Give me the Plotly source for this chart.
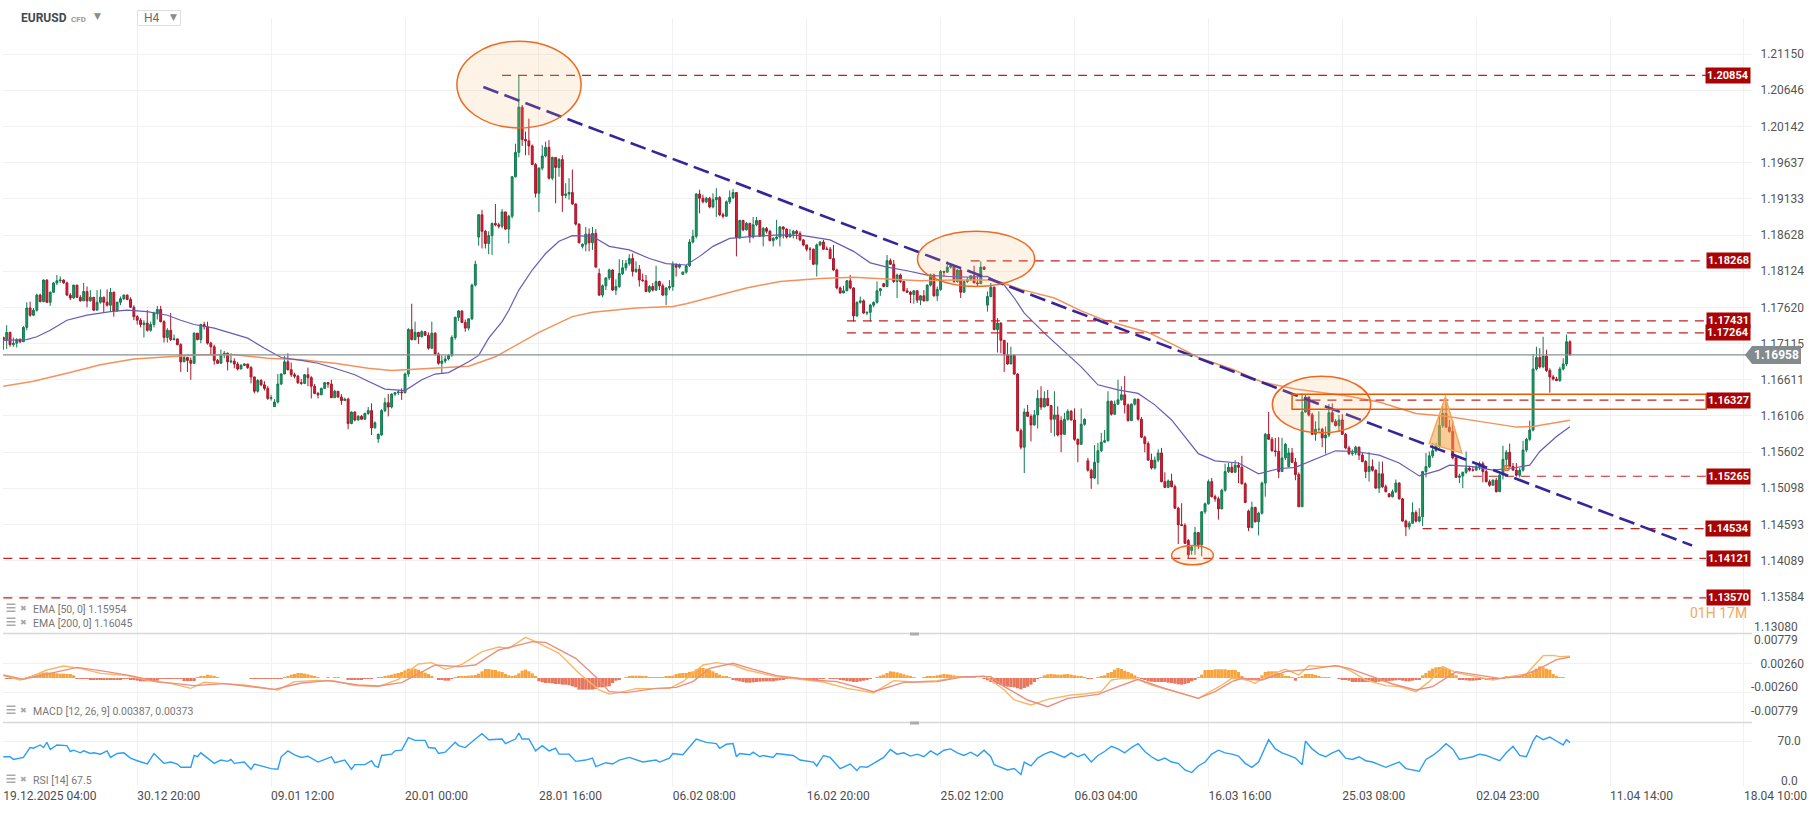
import plotly.graph_objects as go

# Prices are given in pips above 1.0000 (1712 = 1.1712)
close_pips = [
1717,1727,1710,1712,1717,1714,1734,1761,1751,1758,1779,1770,1800,1769,1783,1796,1799,1800,1796,1779,
1775,1793,1776,1771,1784,1771,1776,1758,1769,1776,1769,1765,1783,1757,1769,1774,1779,1773,1762,1749,
1744,1738,1740,1730,1738,1754,1759,1742,1720,1730,1717,1718,1710,1686,1692,1688,1684,1726,1717,1738,
1735,1712,1707,1688,1684,1696,1698,1686,1687,1683,1676,1681,1683,1678,1665,1645,1660,1654,1649,1635,
1636,1630,1655,1669,1686,1675,1668,1666,1657,1656,1668,1664,1652,1642,1640,1649,1657,1655,1636,1645,
1637,1632,1634,1600,1616,1605,1610,1606,1614,1618,1594,1601,1585,1618,1629,1623,1641,1643,1644,1643,
1669,1731,1717,1727,1721,1728,1723,1705,1726,1697,1684,1687,1690,1695,1720,1748,1757,1741,1733,1746,
1793,1822,1891,1868,1851,1862,1879,1877,1875,1895,1871,1889,1944,1978,2041,1996,1994,1987,1961,1921,
1956,1973,1985,1942,1971,1957,1968,1918,1920,1922,1906,1878,1852,1850,1864,1852,1865,1818,1779,1792,
1803,1814,1786,1791,1809,1817,1823,1830,1812,1815,1800,1799,1784,1791,1786,1798,1792,1779,1789,1791,
1822,1818,1821,1811,1820,1853,1861,1920,1914,1909,1914,1902,1912,1915,1891,1889,1909,1915,1922,1859,
1883,1870,1879,1860,1877,1883,1861,1872,1868,1855,1858,1860,1874,1871,1860,1864,1868,1865,1856,1849,
1843,1843,1822,1849,1853,1843,1843,1830,1814,1789,1782,1785,1799,1789,1750,1769,1771,1754,1755,1765,
1769,1785,1788,1791,1827,1822,1798,1807,1798,1785,1783,1780,1785,1772,1778,1771,1793,1807,1778,1787,
1812,1811,1818,1820,1798,1814,1783,1798,1801,1806,1796,1795,1818,1815,1777,1790,1731,1740,1716,1696,
1683,1695,1669,1590,1567,1616,1610,1598,1612,1635,1623,1635,1625,1606,1612,1584,1585,1606,1617,1605,
1578,1571,1599,1606,1535,1524,1546,1562,1574,1576,1631,1613,1627,1633,1640,1626,1604,1627,1634,1606,
1581,1572,1549,1538,1549,1559,1519,1511,1520,1512,1482,1459,1458,1433,1417,1428,1448,1431,1477,1488,
1519,1498,1495,1481,1507,1533,1539,1532,1542,1539,1516,1490,1455,1483,1463,1475,1517,1585,1578,1562,
1561,1533,1552,1571,1559,1546,1529,1484,1616,1637,1612,1585,1592,1592,1580,1584,1615,1603,1597,1605,
1585,1566,1558,1559,1567,1556,1547,1533,1540,1535,1510,1530,1512,1505,1498,1505,1517,1495,1464,1456,
1461,1476,1464,1470,1533,1540,1555,1562,1568,1597,1614,1595,1589,1552,1525,1527,1532,1538,1535,1535,
1540,1544,1533,1519,1514,1521,1505,1528,1550,1560,1540,1535,1528,1535,1563,1578,1591,1676,1692,1679,
1694,1674,1665,1662,1660,1676,1683,1714,1695.8]
high_pips = [
1721,1737,1728,1720,1719,1719,1736,1769,1770,1761,1781,1781,1801,1801,1784,1797,1807,1805,1801,1798,
1782,1793,1793,1779,1796,1791,1786,1775,1786,1787,1777,1787,1789,1784,1770,1777,1780,1780,1776,1765,
1751,1747,1744,1758,1742,1756,1764,1764,1744,1733,1754,1724,1717,1712,1694,1693,1692,1727,1726,1739,
1742,1742,1714,1710,1690,1703,1701,1699,1698,1691,1686,1683,1684,1683,1680,1665,1662,1662,1659,1652,
1640,1634,1669,1670,1694,1698,1685,1671,1668,1662,1669,1678,1666,1655,1644,1650,1658,1658,1661,1647,
1645,1641,1636,1636,1617,1617,1612,1612,1615,1623,1628,1603,1586,1620,1636,1641,1642,1644,1647,1649,
1671,1733,1767,1742,1728,1730,1729,1727,1742,1727,1699,1695,1695,1697,1723,1749,1758,1757,1745,1747,
1795,1827,1892,1898,1870,1868,1880,1906,1880,1899,1895,1891,1945,1990,2085,2044,2007,2025,1989,1963,
1957,1988,1993,1995,1972,1971,1970,1974,1935,1942,1954,1907,1879,1851,1874,1872,1874,1871,1816,1794,
1804,1816,1815,1801,1829,1828,1828,1836,1837,1826,1821,1809,1807,1793,1796,1820,1799,1795,1790,1800,
1826,1823,1823,1812,1821,1857,1870,1921,1926,1919,1916,1916,1921,1928,1917,1894,1911,1925,1927,1922,
1884,1884,1881,1880,1888,1888,1884,1874,1874,1870,1860,1884,1875,1875,1872,1871,1870,1870,1868,1857,
1846,1846,1844,1851,1854,1856,1847,1846,1849,1816,1791,1792,1800,1807,1790,1770,1777,1773,1756,1767,
1770,1798,1789,1796,1835,1830,1828,1809,1809,1799,1789,1785,1786,1786,1779,1786,1794,1809,1809,1791,
1814,1813,1826,1822,1821,1815,1815,1800,1804,1807,1820,1806,1826,1819,1784,1796,1791,1747,1741,1714,
1713,1707,1696,1670,1593,1621,1626,1613,1619,1647,1652,1645,1647,1626,1645,1624,1610,1615,1620,1619,
1621,1579,1621,1607,1552,1537,1570,1573,1587,1591,1645,1632,1632,1661,1652,1666,1628,1628,1635,1633,
1609,1583,1575,1558,1554,1564,1566,1532,1522,1530,1515,1484,1489,1461,1439,1430,1456,1449,1478,1490,
1522,1524,1501,1498,1509,1544,1545,1546,1549,1546,1555,1518,1480,1491,1484,1477,1519,1587,1616,1581,
1580,1581,1580,1573,1566,1566,1552,1532,1642,1640,1637,1615,1603,1617,1594,1596,1627,1628,1606,1612,
1613,1587,1569,1564,1569,1568,1560,1549,1560,1550,1536,1547,1547,1515,1503,1508,1522,1518,1496,1466,
1464,1490,1479,1482,1534,1559,1561,1573,1573,1612,1626,1635,1605,1604,1554,1530,1533,1561,1541,1540,
1544,1547,1547,1536,1522,1522,1524,1530,1569,1563,1572,1545,1545,1538,1576,1580,1604,1697,1707,1705,
1721,1703,1677,1668,1665,1679,1691,1724,1716]
low_pips = [
1703,1704,1707,1707,1706,1712,1714,1730,1749,1750,1756,1769,1769,1768,1764,1782,1793,1796,1795,1778,
1772,1774,1775,1770,1771,1762,1770,1757,1758,1767,1755,1763,1756,1749,1756,1765,1772,1772,1761,1744,
1738,1734,1720,1728,1728,1734,1745,1741,1713,1713,1715,1716,1709,1672,1686,1672,1661,1683,1716,1712,
1731,1710,1696,1682,1683,1685,1691,1674,1684,1677,1674,1676,1680,1676,1656,1642,1643,1652,1646,1633,
1632,1623,1628,1654,1669,1674,1665,1663,1655,1654,1655,1652,1635,1641,1635,1640,1649,1650,1636,1636,
1636,1626,1632,1592,1599,1603,1604,1605,1607,1612,1584,1593,1573,1583,1616,1610,1621,1638,1640,1633,
1642,1665,1716,1716,1711,1720,1722,1703,1704,1695,1682,1670,1684,1688,1693,1717,1743,1740,1728,1730,
1744,1791,1848,1844,1844,1836,1835,1875,1872,1872,1870,1851,1886,1943,1971,1987,1974,1974,1960,1915,
1895,1953,1971,1940,1939,1907,1944,1895,1914,1912,1905,1876,1851,1844,1840,1840,1842,1818,1778,1776,
1786,1800,1785,1779,1789,1807,1813,1820,1805,1810,1791,1798,1783,1782,1784,1785,1786,1778,1765,1786,
1785,1805,1816,1807,1809,1818,1851,1858,1893,1907,1907,1900,1900,1888,1889,1886,1888,1906,1913,1833,
1857,1868,1869,1852,1858,1875,1861,1847,1865,1854,1847,1856,1847,1858,1858,1861,1858,1857,1854,1847,
1840,1828,1821,1805,1847,1842,1842,1829,1813,1787,1781,1784,1789,1787,1742,1749,1767,1753,1751,1742,
1762,1767,1778,1790,1790,1821,1796,1775,1796,1784,1782,1768,1767,1768,1765,1770,1771,1791,1777,1771,
1785,1805,1810,1816,1796,1796,1775,1783,1796,1799,1796,1791,1795,1814,1756,1776,1730,1699,1698,1672,
1682,1683,1668,1589,1564,1531,1609,1575,1597,1593,1619,1623,1624,1587,1582,1582,1560,1584,1604,1604,
1576,1546,1570,1597,1533,1509,1523,1515,1560,1573,1575,1611,1612,1626,1632,1614,1603,1604,1625,1604,
1580,1560,1548,1536,1536,1546,1518,1510,1510,1511,1481,1432,1457,1432,1411,1417,1417,1425,1415,1474,
1487,1497,1491,1466,1481,1505,1531,1531,1532,1517,1515,1489,1450,1454,1462,1444,1473,1498,1577,1561,
1554,1524,1533,1549,1539,1545,1521,1484,1484,1615,1610,1584,1576,1587,1567,1558,1581,1601,1596,1589,
1584,1564,1556,1555,1556,1549,1546,1524,1519,1533,1509,1503,1510,1504,1497,1497,1503,1494,1463,1443,
1452,1460,1462,1462,1457,1525,1538,1552,1561,1566,1594,1594,1587,1550,1524,1517,1510,1530,1533,1533,
1535,1535,1518,1518,1512,1515,1504,1505,1522,1538,1538,1535,1526,1525,1533,1560,1576,1589,1674,1677,
1677,1672,1643,1660,1659,1658,1674,1680,1695]
open_gaps = {81:1623.5, 112:1578.5, 113:1584, 142:1860, 173:1847, 178:1809, 203:1808, 263:1795,
             294:1765, 316:1604, 324:1548, 354:1437, 355:1423, 356:1431, 372:1478, 384:1540, 414:1502}
first_open = 1720

ema50_idx = [0,7,10,14,19,25,32,37,43,49,53,57,63,68,73,78,83,89,94,99,105,109,114,120,125,129,133,139,142,145,149,151,154,158,162,166,170,176,181,187,193,198,204,208,212,217,224,232,239,247,254,259,264,270,276,282,288,294,299,302,305,311,318,322,327,333,339,344,349,353,357,362,369,375,381,386,391,398,404,411,417,423,429,432,439,445,451,456,459,464,468]
ema50_vals = [1716,1717,1721,1730,1744,1751,1756,1758,1756,1751,1744,1738,1733,1726,1719,1705,1692,1688,1684,1677,1668,1659,1648,1646,1661,1669,1671,1686,1695,1719,1742,1758,1786,1814,1837,1854,1862,1861,1847,1842,1830,1823,1821,1833,1847,1858,1861,1863,1862,1856,1840,1824,1818,1813,1807,1805,1804,1805,1793,1775,1754,1726,1696,1679,1654,1647,1642,1626,1605,1582,1558,1548,1545,1530,1537,1539,1549,1562,1561,1556,1545,1527,1535,1542,1540,1535,1538,1542,1561,1582,1595.4]
ema200_idx = [0,9,19,29,39,49,59,69,79,89,99,109,116,124,139,147,153,160,170,176,189,200,204,212,222,232,244,254,264,274,284,296,304,314,322,329,342,350,357,367,376,386,402,411,422,431,441,452,457,468]
ema200_vals = [1652,1659,1670,1682,1690,1693,1696,1696,1691,1689,1684,1677,1674,1676,1680,1693,1709,1727,1749,1755,1761,1763,1767,1777,1789,1798,1802,1804,1801,1799,1800,1800,1787,1775,1757,1744,1727,1709,1692,1676,1658,1648,1638,1630,1614,1610,1603,1595,1596,1604.5]

level_vals = [1.20854,1.18268,1.17431,1.17264,1.16327,1.15265,1.14534,1.14121,1.13570]
level_labels = ["1.20854","1.18268","1.17431","1.17264","1.16327","1.15265","1.14534","1.14121","1.13570"]
level_start = [149,289,252,252,386,439,424,0,0]
last_price = 1.16958

price_tick_labels = ["1.21150","1.20646","1.20142","1.19637","1.19133","1.18628","1.18124","1.17620","1.17115","1.16611","1.16106","1.15602","1.15098","1.14593","1.14089","1.13584"]
time_tick_labels = ["19.12.2025 04:00","30.12 20:00","09.01 12:00","20.01 00:00","28.01 16:00","06.02 08:00","16.02 20:00","25.02 12:00","06.03 04:00","16.03 16:00","25.03 08:00","02.04 23:00","11.04 14:00","18.04 10:00"]

HIST_UNIT = 5.9e-5
macd_hist = [
0,-1,-1,-1,-1,0,0,3,5,8,11,14,16,17,16,15,14,13,13,12,12,8,
-1,-2,-2,-2,-5,-5,-5,-5,-5,-5,-5,-4,-4,-4,-1,-3,-4,-6,-8,-10,-10,-10,-10,-9,-8,-3,-1,
-2,-2,-2,-3,-3,-9,-9,-9,-9,2,4,6,10,8,6,3,0,0,0,0,0,0,0,0,0,
-1,-2,-2,-2,-2,-2,-2,-2,-2,-1,3,6,10,12,15,15,13,11,8,5,3,0,0,1,0,2,1,0,0,
-5,-5,-5,-5,-5,-3,-2,-1,0,2,3,6,8,10,13,15,18,23,28,28,28,25,20,16,12,6,0,
-4,-6,-8,-8,-3,3,4,5,6,7,8,9,13,20,27,27,25,24,20,18,12,8,6,8,14,22,25,20,14,6,
-10,-13,-15,-15,-16,-18,-18,-20,-20,-22,-25,-28,-35,-35,-35,-35,-35,-33,
-28,-28,-26,-25,-15,-8,-5,0,2,5,7,7,7,5,4,3,2,2,2,3,4,6,7,12,14,15,15,18,20,26,30,30,28,25,20,15,10,6,4,2,
-6,-8,-10,-12,-14,-14,-13,-12,-11,-10,-10,-10,-10,-8,-7,-5,-3,-3,-2,-3,-4,-4,-5,-6,-5,-4,-3,-1,0,-1,-2,-3,-5,-7,-9,-10,-12,-12,-10,-8,-5,-3,0,
2,7,10,15,20,19,17,14,11,8,4,2,0,0,2,5,6,6,8,10,12,11,10,8,6,5,3,2,1,1,0,0,
-3,-7,-12,-16,-18,-22,-25,-26,-27,-28,-31,-34,-30,-26,-20,-12,-3,3,8,11,12,11,10,10,11,12,10,8,6,5,2,-1,-3,0,2,5,8,15,18,25,30,27,22,18,14,8,2,
-2,-6,-10,-11,-12,-12,-12,-12,-14,-15,-17,-19,-20,-18,-15,-10,-4,2,10,24,24,24,26,26,26,26,24,24,24,18,6,-7,-7,-7,-7,-7,8,18,20,20,20,15,12,6,5,1,-8,1,5,12,12,12,9,6,3,1,1,0,0,
-2,-4,-6,-8,-12,-12,-12,-12,-12,-12,-12,-12,-11,-10,-10,-9,-8,-7,-6,-8,-10,-10,-8,-6,-4,8,15,22,28,32,33,34,30,25,15,8,
-4,-6,-7,-8,-8,-7,-5,-3,-4,-5,-6,-5,-3,-1,4,4,5,5,6,8,10,12,20,28,35,32,28,25,12,6,3,1,0,0]
macd_idx = [0,5,9,13,18,23,29,37,45,50,56,60,66,72,82,87,94,99,105,112,118,124,128,132,137,143,148,151,156,159,166,172,178,181,184,189,199,203,209,213,218,222,231,238,245,252,260,266,272,279,285,293,295,299,302,307,312,319,323,328,331,334,338,343,350,357,360,364,367,371,374,377,383,387,390,394,399,402,407,413,417,422,426,430,434,439,445,450,455,460,463,465,468]
macd_vals = [7,-6,7,24,36,29,14,7,-11,-16,-31,-13,-17,-21,-36,-11,-7,-9,-23,-26,-4,42,46,26,41,79,93,89,122,109,74,14,-36,-48,-44,-32,-31,-11,39,46,39,24,4,-3,-12,-31,-44,-8,-12,-8,2,6,-6,-36,-66,-81,-64,-51,-48,-41,-6,-2,-1,-21,-41,-61,-44,-21,-1,-4,-16,4,26,9,37,34,36,24,-6,-23,-26,-41,-11,34,16,7,-6,4,12,67,68,64,65.6]
signal_idx = [0,6,14,22,29,38,46,57,66,81,89,97,106,112,119,129,136,141,148,158,162,171,178,181,186,195,201,206,211,218,224,231,242,249,260,269,279,287,295,299,306,312,318,327,333,339,347,357,362,367,370,376,383,390,398,402,409,415,422,427,434,442,447,453,458,464,468]
signal_vals = [9,-4,14,32,22,7,-11,-23,-17,-34,-15,-8,-21,-24,-14,39,34,39,84,109,107,59,-6,-41,-44,-31,-28,-11,29,44,26,7,-6,-11,-41,-13,-11,4,4,-26,-66,-86,-61,-49,-26,-4,-31,-61,-41,-11,-1,-6,19,26,37,29,4,-18,-36,-26,19,7,-1,4,24,55,63.2]

rsi_idx = [0,2,3,6,8,9,11,12,13,14,16,19,20,21,23,24,26,27,29,31,32,34,36,38,40,43,45,48,50,52,53,56,57,58,59,61,63,65,67,68,69,72,74,75,80,82,83,85,87,89,91,94,98,99,102,104,105,108,110,111,112,113,116,117,119,121,123,126,127,129,130,132,135,136,138,141,143,145,147,149,150,153,154,155,157,159,161,163,165,166,169,171,174,176,177,180,182,184,187,191,195,196,199,200,203,205,207,210,213,214,216,218,219,220,223,224,226,227,230,231,236,238,242,243,245,247,250,253,255,256,258,260,263,265,
267,269,271,273,275,277,279,281,283,285,287,289,291,293,295,296,298,300,302,304,305,307,309,311,313,315,317,319,321,323,325,327,329,331,333,335,337,339,341,343,345,347,349,351,353,355,357,359,361,363,365,367,369,371,373,375,377,378,380,382,384,386,388,389,391,393,395,397,399,401,403,405,407,409,411,413,415,417,419,421,423,425,427,429,431,433,435,437,439,441,443,445,447,449,451,453,455,457,458,460,462,464,466,467,468]
rsi_vals = [46,46,42,45,60,59,64,60,68,57,64,63,54,56,52,55,51,52,50,55,45,51,52,44,40,35,51,36,38,35,30,30,48,46,52,44,36,41,39,42,36,38,27,35,28,27,46,55,49,45,47,38,46,37,41,27,34,34,40,32,30,48,50,55,56,75,71,71,60,59,51,53,68,63,60,73,81,72,73,73,66,73,82,73,73,55,63,55,59,50,50,39,41,44,31,37,35,41,45,38,41,38,44,51,49,61,73,68,66,59,65,66,46,51,49,53,46,48,45,51,48,41,38,32,48,45,28,35,25,31,30,36,45,57,
50,52,47,50,46,55,49,56,58,52,48,53,47,56,46,34,30,26,28,19,38,32,44,50,54,50,45,52,46,50,38,48,54,62,58,52,60,66,54,46,40,44,38,36,26,22,32,38,50,56,52,50,47,36,30,38,62,72,58,52,48,44,34,70,58,50,46,52,56,44,42,46,40,38,34,30,34,38,28,26,24,42,48,56,66,58,42,44,46,50,48,44,40,52,62,48,46,70,78,72,76,70,64,72,67.5]

assert len(close_pips) == len(high_pips) == len(low_pips)
assert len(ema50_idx) == len(ema50_vals) and len(ema200_idx) == len(ema200_vals)
assert len(macd_idx) == len(macd_vals) and len(signal_idx) == len(signal_vals) and len(rsi_idx) == len(rsi_vals)

W, H = 1818, 813
def pr(v):
    return 1 + v / 10000
def px(x):
    return x / W
def py(y):
    return 1 - y / H

n = len(close_pips)
xs = list(range(n))
opens = [first_open] + close_pips[:-1]
for k, v in open_gaps.items():
    opens[k] = v

fig = go.Figure()
fig.add_trace(go.Candlestick(
    x=xs, open=[pr(v) for v in opens], high=[pr(v) for v in high_pips],
    low=[pr(v) for v in low_pips], close=[pr(v) for v in close_pips],
    whiskerwidth=0, xaxis="x", yaxis="y",
    increasing=dict(line=dict(color="#107a50", width=1), fillcolor="#1c9a64"),
    decreasing=dict(line=dict(color="#a81628", width=1), fillcolor="#e01b35"),
    hoverinfo="skip", showlegend=False))
fig.add_trace(go.Scatter(x=ema200_idx, y=[pr(v) for v in ema200_vals], mode="lines",
                         line=dict(color="#f4915c", width=1.5), showlegend=False, hoverinfo="skip"))
fig.add_trace(go.Scatter(x=ema50_idx, y=[pr(v) for v in ema50_vals], mode="lines",
                         line=dict(color="#6a5ab5", width=1.2), showlegend=False, hoverinfo="skip"))

END_IDX = 508.7
for val, start in zip(level_vals, level_start):
    fig.add_trace(go.Scatter(x=[start, END_IDX], y=[val, val], mode="lines",
                             line=dict(color="#c42020", width=1.2, dash="9px,7px"),
                             showlegend=False, hoverinfo="skip"))
fig.add_trace(go.Scatter(x=[143.4, 504.5], y=[pr(2069), pr(1430)], mode="lines",
                         line=dict(color="#35259c", width=2.6, dash="16px,6.5px"),
                         showlegend=False, hoverinfo="skip"))
fig.add_trace(go.Scatter(x=[-0.1, 522.4], y=[last_price, last_price], mode="lines",
                         line=dict(color="#8a9094", width=1.2), showlegend=False, hoverinfo="skip"))

fig.add_trace(go.Bar(x=list(range(len(macd_hist))), y=[v * HIST_UNIT for v in macd_hist], yaxis="y2", width=0.96,
                     marker=dict(color=["#f9a33b" if v >= 0 else "#e8775f" for v in macd_hist], line=dict(width=0)),
                     showlegend=False, hoverinfo="skip"))
fig.add_trace(go.Scatter(x=macd_idx, y=[v * HIST_UNIT for v in macd_vals], yaxis="y2", mode="lines",
                         line=dict(color="#fab665", width=1.4), showlegend=False, hoverinfo="skip"))
fig.add_trace(go.Scatter(x=signal_idx, y=[v * HIST_UNIT for v in signal_vals], yaxis="y2", mode="lines",
                         line=dict(color="#e88f80", width=1.4), showlegend=False, hoverinfo="skip"))
fig.add_trace(go.Scatter(x=rsi_idx, y=rsi_vals, yaxis="y3", mode="lines",
                         line=dict(color="#2b9ff5", width=1.4), showlegend=False, hoverinfo="skip"))

ORANGE = "#ee6a20"
FILL = "rgba(250,185,110,0.17)"
shapes = []
for x0, x1, y0, y1 in [(135.5, 172.6, 2012, 2133), (273.1, 308.1, 1791, 1868), (379.1, 408.5, 1587, 1666),
                       (349, 361.5, 1403, 1430), (448.3, 449.9, 1534.5, 1541.5)]:
    shapes.append(dict(type="circle", xref="x", yref="y", x0=x0, x1=x1, y0=pr(y0), y1=pr(y1),
                       line=dict(color=ORANGE, width=1.5), fillcolor=FILL, layer="above"))
shapes.append(dict(type="rect", xref="x", yref="y", x0=385, x1=END_IDX, y0=pr(1620), y1=pr(1640.7),
                   line=dict(color="#e85a00", width=1.5), fillcolor="rgba(0,0,0,0)", layer="above"))
shapes.append(dict(type="path", xref="x", yref="y",
                   path=f"M 426 {pr(1572)} L 430.8 {pr(1637)} L 435.7 {pr(1559)} Z",
                   line=dict(color="#f6a85a", width=1.5), fillcolor="rgba(248,160,70,0.55)", layer="above"))
# panel separators and handles
for y in (633.5, 722.5):
    shapes.append(dict(type="line", xref="paper", yref="paper", x0=px(3), x1=px(1752), y0=py(y), y1=py(y),
                       line=dict(color="#d8d8d8", width=1.5), layer="above"))
    shapes.append(dict(type="rect", xref="paper", yref="paper", x0=px(910), x1=px(919), y0=py(y + 2), y1=py(y - 1),
                       line=dict(width=0), fillcolor="#a9adb0", layer="above"))
# header background and H4 box
shapes.append(dict(type="rect", xref="paper", yref="paper", x0=px(0), x1=px(110), y0=py(30), y1=py(0),
                   line=dict(width=0), fillcolor="white", layer="above"))
shapes.append(dict(type="rect", xref="paper", yref="paper", x0=px(137.5), x1=px(180.5), y0=py(25.5), y1=py(10.5),
                   line=dict(color="#dfdfdf", width=1), fillcolor="white", layer="above"))
# last price tag
tag = "M {} {} L {} {} L {} {} L {} {} L {} {} Z".format(
    px(1745), py(355), px(1752), py(346), px(1801), py(346), px(1801), py(364), px(1752), py(364))
shapes.append(dict(type="path", xref="paper", yref="paper", path=tag, line=dict(width=0),
                   fillcolor="#838b8f", layer="above"))
# indicator menu icons (three short bars)
for y in (608, 622, 710, 779):
    for dy in (-4, -0.5, 3):
        shapes.append(dict(type="rect", xref="paper", yref="paper", x0=px(6.5), x1=px(15.5),
                           y0=py(y + dy + 1), y1=py(y + dy - 0.5), line=dict(width=0),
                           fillcolor="#a8a8a8", layer="above"))

FONT = "Roboto"
ann = []
def text(x, y, s, size=12, color="#555", anchor="left", bold=False, fam=FONT, **kw):
    ann.append(dict(xref="paper", yref="paper", x=px(x), y=py(y), text=f"<b>{s}</b>" if bold else s,
                    showarrow=False, xanchor=anchor, yanchor="middle",
                    font=dict(family=fam, size=size, color=color), **kw))

for val, label in zip(level_vals, level_labels):
    ann.append(dict(xref="paper", yref="y", x=px(1728), y=val, text=f"<b>{label}</b>", showarrow=False,
                    xanchor="center", yanchor="middle", bgcolor="#a90303", borderpad=1,
                    font=dict(family=FONT, size=11, color="white")))
text(1776.5, 355, "1.16958", 12, "white", "center", True)
text(19, 18, "EURUSD", 12, "#3f4a52", bold=True)
text(69, 19, "CFD", 8, "#9a9a9a", bold=True)
text(97, 16, "▼", 9, "#8b8b8b", "center", fam="DejaVu Sans")
text(142, 18, "H4", 12, "#6a6a6a")
text(173, 17, "▼", 9, "#8b8b8b", "center", fam="DejaVu Sans")
text(1749, 613, "01H 17M", 14, "#f4a860", "right")
text(1800, 627, "1.13080", 12, "#555", "right")
text(1800, 640, "0.00779", 12, "#555", "right")
text(1800, 687, "-0.00260", 12, "#555", "right")
text(1800, 711, "-0.00779", 12, "#555", "right")
text(1800, 781, "0.0", 12, "#555", "right")
for y, s in [(609, "EMA [50, 0] 1.15954"), (623, "EMA [200, 0] 1.16045"),
             (711, "MACD [12, 26, 9] 0.00387, 0.00373"), (780, "RSI [14] 67.5")]:
    text(23, y - 1, "✖", 8, "#a8a8a8", "center", False, "DejaVu Sans")
    text(31, y, s, 10.5, "#777777")

GRID = "#f1f1f1"
fig.update_layout(
    width=W, height=H, autosize=False, margin=dict(l=0, r=0, t=0, b=0, autoexpand=False),
    paper_bgcolor="white", plot_bgcolor="white", showlegend=False, barmode="overlay", boxgap=0.2,
    shapes=shapes, annotations=ann, font=dict(family=FONT, size=12, color="#555"),
    xaxis=dict(domain=[px(3), px(1752)], range=[-0.1, 522.4], anchor="y3", rangeslider=dict(visible=False),
               automargin=False,
               tickmode="array", tickvals=[40 * k for k in range(len(time_tick_labels))], ticktext=time_tick_labels,
               ticklabelposition="outside right", ticks="", showgrid=True, gridcolor=GRID, gridwidth=1,
               showline=False, zeroline=False, tickfont=dict(family=FONT, size=12, color="#4e4e4e")),
    yaxis=dict(domain=[py(633), py(18)], range=[pr(1308), pr(2165.3)], side="right", anchor="x", automargin=False,
               tickmode="array", tickvals=[float(t) for t in price_tick_labels] + [1.1308],
               ticktext=price_tick_labels + [""], ticks="outside", ticklen=5, tickcolor="rgba(0,0,0,0)",
               showgrid=True, gridcolor=GRID, zeroline=False, showline=False,
               tickfont=dict(family=FONT, size=12, color="#555")),
    yaxis2=dict(domain=[py(722), py(634)], range=[-0.00779, 0.00779], side="right", anchor="x", automargin=False,
                tickmode="array", tickvals=[0.0026, -0.0026], ticktext=["0.00260", ""],
                ticks="outside", ticklen=5, tickcolor="rgba(0,0,0,0)", showgrid=True, gridcolor=GRID,
                zeroline=False, showline=False, tickfont=dict(family=FONT, size=12, color="#555")),
    yaxis3=dict(domain=[py(787), py(723)], range=[0, 97.4], side="right", anchor="x", automargin=False,
                tickmode="array", tickvals=[0, 70], ticktext=["", "70.0"],
                ticks="outside", ticklen=22, tickcolor="rgba(0,0,0,0)", showgrid=True, gridcolor=GRID,
                zeroline=False, showline=False, tickfont=dict(family=FONT, size=12, color="#555")),
)

fig.write_html("out.html", config={"displayModeBar": False},
               post_script="document.body.style.margin='0';document.documentElement.style.overflow='hidden';")
